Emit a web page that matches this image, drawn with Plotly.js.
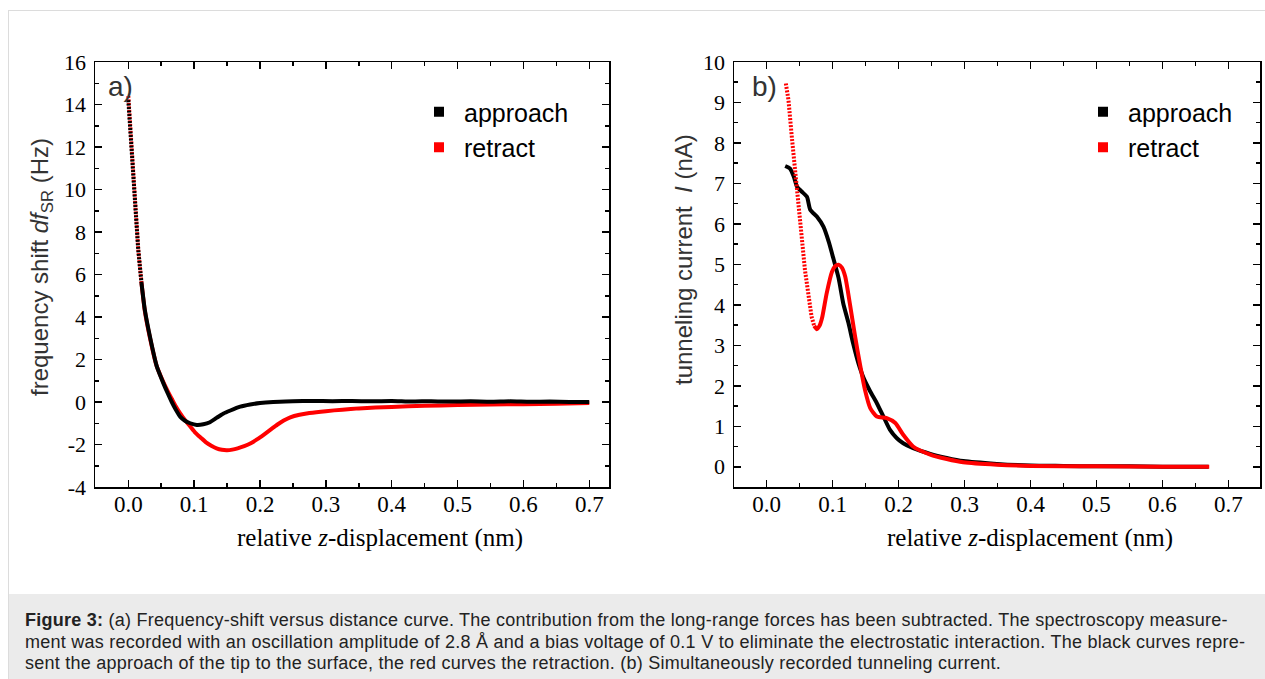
<!DOCTYPE html>
<html>
<head>
<meta charset="utf-8">
<script src="https://cdn.plot.ly/plotly-3.0.1.min.js"></script>
<style>
  html, body { margin:0; padding:0; background:#fff; width:1265px; height:679px; overflow:hidden; }
  #frame { position:absolute; left:8px; top:10px; width:1265px; height:680px; border-left:1px solid #dcdcdc; border-top:1px solid #dcdcdc; }
  #chart { position:absolute; left:0; top:0; width:1265px; height:679px; }
  #caption { position:absolute; left:9px; top:594px; width:1256px; height:85px; background:#ebebeb; white-space:nowrap;
     font-family:"Liberation Sans", Arial, sans-serif; font-size:18px; letter-spacing:0.25px; line-height:21.5px; color:#222; padding:16px 0 0 16px; box-sizing:border-box; }
</style>
</head>
<body>
<div id="frame"></div>
<div id="chart"></div>
<div id="caption"><b>Figure 3:</b> (a) Frequency-shift versus distance curve. The contribution from the long-range forces has been subtracted. The spectroscopy measure-<br>ment was recorded with an oscillation amplitude of 2.8 Å and a bias voltage of 0.1 V to eliminate the electrostatic interaction. The black curves repre-<br>sent the approach of the tip to the surface, the red curves the retraction. (b) Simultaneously recorded tunneling current.</div>
<script>
// ---- Panel a: frequency shift (Hz) vs relative z-displacement (nm)
const aApproachX = [0.000,0.005,0.010,0.015,0.020,0.025,0.033,0.043,0.053,0.060,0.066,0.072,0.079,0.086,0.094,0.104,0.114,0.124,0.134,0.144,0.155,0.170,0.185,0.200,0.220,0.250,0.280,0.310,0.340,0.370,0.400,0.430,0.460,0.490,0.520,0.550,0.580,0.610,0.640,0.670,0.700];
const aApproachY = [14.2,11.9,9.5,7.2,5.6,4.35,3.05,1.7,0.9,0.4,0.0,-0.35,-0.7,-0.88,-1.0,-1.08,-1.05,-0.95,-0.75,-0.55,-0.4,-0.22,-0.12,-0.05,0.0,0.03,0.05,0.04,0.05,0.03,0.05,0.02,0.04,0.02,0.03,0.01,0.03,0.01,0.02,0.0,0.0];
const aRetractX = [0.000,0.005,0.010,0.015,0.020,0.025,0.033,0.043,0.053,0.060,0.066,0.072,0.079,0.086,0.094,0.102,0.110,0.118,0.126,0.134,0.142,0.150,0.158,0.166,0.176,0.186,0.196,0.206,0.216,0.226,0.236,0.246,0.260,0.275,0.300,0.325,0.350,0.400,0.450,0.500,0.550,0.600,0.650,0.700];
const aRetractY = [14.4,12.0,9.6,7.2,5.6,4.3,3.0,1.7,0.95,0.5,0.15,-0.2,-0.55,-0.85,-1.15,-1.45,-1.68,-1.9,-2.06,-2.18,-2.25,-2.27,-2.24,-2.18,-2.08,-1.94,-1.75,-1.53,-1.3,-1.07,-0.87,-0.72,-0.6,-0.52,-0.43,-0.36,-0.3,-0.23,-0.18,-0.14,-0.12,-0.1,-0.08,-0.05];

// ---- Panel b: tunneling current (nA) vs relative z-displacement (nm)
const bApproachX = [0.028,0.035,0.041,0.046,0.053,0.061,0.066,0.076,0.086,0.094,0.101,0.109,0.116,0.124,0.131,0.139,0.147,0.157,0.167,0.177,0.187,0.197,0.207,0.222,0.248,0.273,0.298,0.349,0.400,0.450,0.500,0.550,0.600,0.670];
const bApproachY = [7.43,7.37,7.17,6.92,6.8,6.67,6.35,6.18,5.93,5.56,5.15,4.66,4.04,3.55,3.05,2.56,2.19,1.86,1.57,1.24,0.91,0.71,0.58,0.46,0.32,0.22,0.14,0.07,0.03,0.02,0.01,0.01,0.0,0.0];
const bRetractX = [0.029,0.033,0.038,0.043,0.048,0.053,0.058,0.063,0.068,0.072,0.076,0.080,0.084,0.091,0.099,0.104,0.109,0.114,0.119,0.126,0.134,0.142,0.149,0.157,0.167,0.182,0.195,0.207,0.222,0.248,0.273,0.298,0.349,0.400,0.500,0.600,0.671];
const bRetractY = [9.47,9.06,8.16,7.25,6.51,5.69,4.86,4.2,3.71,3.48,3.4,3.48,3.68,4.29,4.82,4.96,4.99,4.92,4.7,4.04,3.22,2.48,1.9,1.45,1.24,1.2,1.08,0.79,0.5,0.3,0.19,0.11,0.05,0.02,0.01,0.0,0.0];

const seriesNames = ['approach','retract'];
const seriesColors = ['#000000','#ff0000'];
const xTicks = [0.0,0.1,0.2,0.3,0.4,0.5,0.6,0.7];
const aYTicks = [-4,-2,0,2,4,6,8,10,12,14,16];
const bYTicks = [0,1,2,3,4,5,6,7,8,9,10];

const W = 1265, H = 679;
const px = v => v / W, py = v => 1 - v / H;

const serifFamily = '"Liberation Serif", "Times New Roman", serif';
const serif = {family:serifFamily, size:22, color:'#000'};
const sans = '"Liberation Sans", Arial, sans-serif';

function xAxis(domain, range, anchor) {
  return {domain, range, anchor, tickvals:xTicks, ticktext:xTicks.map(v=>v.toFixed(1)),
    ticks:'inside', ticklen:7, tickwidth:1.5, tickcolor:'#000', showline:true, linewidth:1.5, linecolor:'#000', mirror:'ticks',
    minor:{dtick:0.05, tick0:0, ticks:'inside', ticklen:4, tickwidth:1.5, tickcolor:'#000'},
    showgrid:false, zeroline:false, tickfont:{family:serifFamily, size:23, color:'#000'}, ticklabelstandoff:-4};
}
function yAxis(domain, range, ticks, minorDtick, anchor) {
  return {domain, range, anchor, tickvals:ticks, ticktext:ticks.map(v=>String(v)),
    ticks:'inside', ticklen:7, tickwidth:1.5, tickcolor:'#000', showline:true, linewidth:1.5, linecolor:'#000', mirror:'ticks',
    minor:{dtick:minorDtick, tick0:0, ticks:'inside', ticklen:4, tickwidth:1.5, tickcolor:'#000'},
    showgrid:false, zeroline:false, tickfont:serif, ticklabelstandoff:3};
}

// steep (sparsely sampled) parts are drawn dotted, as in the original
const dotted = '2px,1.5px';
const aSteep = 5, bSteep = 10;
const traces = [
  {x:aRetractX.slice(0,aSteep), y:aRetractY.slice(0,aSteep), xaxis:'x', yaxis:'y', mode:'lines', line:{color:seriesColors[1], width:4, dash:dotted}, showlegend:false},
  {x:aRetractX.slice(aSteep-1), y:aRetractY.slice(aSteep-1), xaxis:'x', yaxis:'y', mode:'lines', line:{color:seriesColors[1], width:4, shape:'spline', smoothing:0.5}, showlegend:false},
  {x:aApproachX.slice(0,aSteep), y:aApproachY.slice(0,aSteep), xaxis:'x', yaxis:'y', mode:'lines', line:{color:seriesColors[0], width:4, dash:dotted}, showlegend:false},
  {x:aApproachX.slice(aSteep-1), y:aApproachY.slice(aSteep-1), xaxis:'x', yaxis:'y', mode:'lines', line:{color:seriesColors[0], width:4, shape:'spline', smoothing:0.5}, showlegend:false},
  {x:bApproachX, y:bApproachY, xaxis:'x2', yaxis:'y2', mode:'lines', line:{color:seriesColors[0], width:4, shape:'spline', smoothing:0.6}, showlegend:false},
  {x:bRetractX.slice(0,bSteep), y:bRetractY.slice(0,bSteep), xaxis:'x2', yaxis:'y2', mode:'lines', line:{color:seriesColors[1], width:4, dash:dotted}, showlegend:false},
  {x:bRetractX.slice(bSteep-1), y:bRetractY.slice(bSteep-1), xaxis:'x2', yaxis:'y2', mode:'lines', line:{color:seriesColors[1], width:4, shape:'spline', smoothing:0.6}, showlegend:false},
];
// legend entries (square symbols)
seriesNames.forEach((n,i)=>{
  traces.push({x:[null], y:[null], xaxis:'x', yaxis:'y', mode:'markers', name:n, marker:{symbol:'square', size:10, color:seriesColors[i]}, legend:'legend'});
  traces.push({x:[null], y:[null], xaxis:'x2', yaxis:'y2', mode:'markers', name:n, marker:{symbol:'square', size:10, color:seriesColors[i]}, legend:'legend2'});
});

const legendBase = {xanchor:'left', yanchor:'top', bgcolor:'rgba(0,0,0,0)', font:{family:sans, size:25, color:'#000'}, tracegroupgap:0, itemclick:false, itemwidth:40};
const xTitleFont = {family:serifFamily, size:25, color:'#000'};

const layout = {
  width:W, height:H, margin:{l:0,r:0,t:0,b:0}, paper_bgcolor:'rgba(0,0,0,0)', plot_bgcolor:'#fff',
  showlegend:true,
  xaxis: xAxis([px(95), px(609)], [-0.0506, 0.73], 'y'),
  yaxis: yAxis([py(487), py(62)], [-4, 16], aYTicks, 1, 'x'),
  xaxis2: xAxis([px(734), px(1260)], [-0.0496, 0.748], 'y2'),
  yaxis2: yAxis([py(487), py(62)], [-0.5, 10], bYTicks, 0.5, 'x2'),
  legend: Object.assign({x:px(414), y:py(89)}, legendBase),
  legend2: Object.assign({x:px(1078), y:py(89)}, legendBase),
  annotations: [
    {xref:'paper', yref:'paper', x:px(106), y:py(86), text:'a)', showarrow:false, xanchor:'left', yanchor:'middle', font:{family:sans, size:28, color:'#333'}},
    {xref:'paper', yref:'paper', x:px(750), y:py(86), text:'b)', showarrow:false, xanchor:'left', yanchor:'middle', font:{family:sans, size:28, color:'#333'}},
    {xref:'paper', yref:'paper', x:px(380), y:py(538), text:'relative <i>z</i>-displacement (nm)', showarrow:false, xanchor:'center', yanchor:'middle', font:xTitleFont},
    {xref:'paper', yref:'paper', x:px(1030), y:py(538), text:'relative <i>z</i>-displacement (nm)', showarrow:false, xanchor:'center', yanchor:'middle', font:xTitleFont},
    {xref:'paper', yref:'paper', x:px(42), y:py(267), text:'frequency shift <i>df</i><sub>SR</sub> (Hz)', textangle:-90, showarrow:false, xanchor:'center', yanchor:'middle', font:{family:sans, size:24, color:'#333'}},
    {xref:'paper', yref:'paper', x:px(683), y:py(260), text:'tunneling current &nbsp;<i>I</i> (nA)', textangle:-90, showarrow:false, xanchor:'center', yanchor:'middle', font:{family:sans, size:24, color:'#333'}},
  ]
};

Plotly.newPlot('chart', traces, layout, {staticPlot:true, displayModeBar:false});
</script>
</body>
</html>
